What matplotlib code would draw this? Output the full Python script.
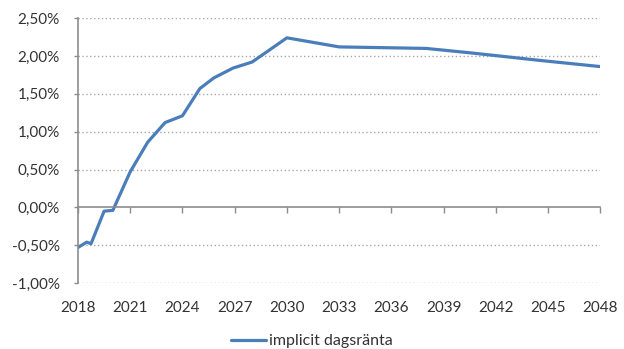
import matplotlib
matplotlib.use("Agg")
import matplotlib.pyplot as plt
from matplotlib.ticker import FuncFormatter, FixedLocator

# Implied overnight rate path (percent)
years = [2018.0, 2018.5, 2018.75, 2019.5, 2020.0, 2021.0, 2022.0, 2023.0, 2024.0,
         2025.0, 2025.8, 2026.9, 2028.0, 2030.0, 2033.0, 2038.0, 2040.6, 2044.6, 2048.0]
rate = [-0.53, -0.46, -0.48, -0.05, -0.04, 0.47, 0.86, 1.12, 1.21,
        1.57, 1.71, 1.84, 1.92, 2.24, 2.12, 2.10, 2.04, 1.94, 1.86]

x_ticks = [2018, 2021, 2024, 2027, 2030, 2033, 2036, 2039, 2042, 2045, 2048]
y_ticks = [-1.0, -0.5, 0.0, 0.5, 1.0, 1.5, 2.0, 2.5]
series_label = "implicit dagsränta"

plt.rcParams["font.family"] = ["Lato", "DejaVu Sans"]
text_color = "#333333"
axis_color = "#8c8c8c"

fig = plt.figure(figsize=(6.24, 3.49), dpi=100)
ax = fig.add_axes([0.125, 0.189, 0.837, 0.759])

line, = ax.plot(years, rate, color="#4a7ebb", lw=2.3, solid_capstyle="round",
                label=series_label)

ax.set_xlim(2018, 2048)
ax.set_ylim(-1.0, 2.5)

# dotted horizontal gridlines
for y in y_ticks:
    if y != 0:
        ax.axhline(y, color="#a8a8a8", lw=1.0, ls=(0, (1.0, 1.8)), zorder=0)

ax.spines["top"].set_visible(False)
ax.spines["right"].set_visible(False)
ax.spines["left"].set_color(axis_color)
ax.spines["left"].set_linewidth(1.2)
ax.spines["bottom"].set_position(("data", 0))
ax.spines["bottom"].set_color(axis_color)
ax.spines["bottom"].set_linewidth(1.2)

ax.yaxis.set_major_locator(FixedLocator(y_ticks))
ax.yaxis.set_major_formatter(FuncFormatter(lambda v, p: f"{v:.2f}%".replace(".", ",")))
ax.tick_params(axis="y", direction="out", length=3, width=1, color=axis_color,
               labelsize=11, labelcolor=text_color, pad=10)

# tick marks on the zero line, labels along the bottom edge
ax.xaxis.set_major_locator(FixedLocator(x_ticks))
ax.tick_params(axis="x", direction="out", length=4, width=1, color=axis_color,
               labelbottom=False)
sec = ax.secondary_xaxis(0)
sec.xaxis.set_major_locator(FixedLocator(x_ticks))
sec.xaxis.set_major_formatter(FuncFormatter(lambda v, p: f"{int(v)}"))
sec.spines["bottom"].set_visible(False)
sec.tick_params(axis="x", length=0, labelsize=11, labelcolor=text_color, pad=13)

fig.legend(handles=[line], loc="center", bbox_to_anchor=(0.5, 0.022),
           frameon=False, fontsize=11.5, labelcolor=text_color, handlelength=2.2,
           handletextpad=0.2, borderpad=0)

fig.savefig("out.png", dpi=100, facecolor="white")
